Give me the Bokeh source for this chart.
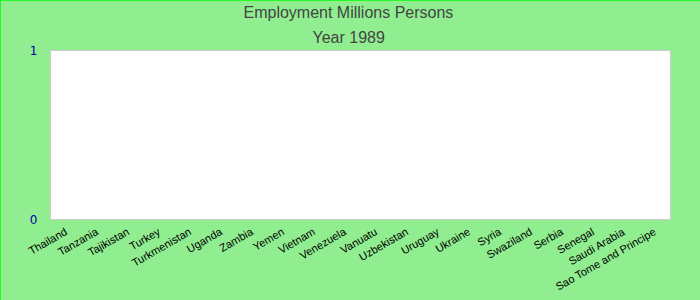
import math
from bokeh.plotting import figure
from bokeh.models import Range1d, FixedTicker, Title, ColumnDataSource
from bokeh.embed import file_html
from bokeh.resources import INLINE

title_main = "Employment Millions Persons"
title_sub = "Year 1989"
countries = ["Thailand", "Tanzania", "Tajikistan", "Turkey", "Turkmenistan", "Uganda",
             "Zambia", "Yemen", "Vietnam", "Venezuela", "Vanuatu", "Uzbekistan", "Uruguay",
             "Ukraine", "Syria", "Swaziland", "Serbia", "Senegal", "Saudi Arabia",
             "Sao Tome and Principe"]
# No data shown for 1989 (empty chart)
employment = [float("nan")] * len(countries)
y_ticks = [0, 1]

src = ColumnDataSource(dict(country=countries, value=employment))

p = figure(width=700, height=300, x_range=countries, y_range=Range1d(0, 1),
           output_backend="svg", toolbar_location=None,
           min_border_left=50, min_border_right=30, min_border_top=50, min_border_bottom=80)
p.vbar(x="country", top="value", width=0.6, source=src, color="#3366cc")

p.border_fill_color = "#90EE90"
p.background_fill_color = "white"
p.outline_line_color = "#cccccc"
p.outline_line_width = 1
p.grid.visible = False

TFONT = "Liberation Sans"
p.title.text = title_main
p.title.align = "left"
p.title.offset = 193
p.title.text_font = TFONT
p.title.text_font_size = "16px"
p.title.text_font_style = "normal"
p.title.text_color = "#444444"
p.title.standoff = 1
t2 = Title(text=title_sub, align="left", offset=262, text_font=TFONT,
           text_font_size="16px", text_font_style="normal", text_color="#444444", standoff=10)
p.add_layout(t2, "above")

p.yaxis.ticker = FixedTicker(ticks=y_ticks)
p.yaxis.axis_line_color = None
p.yaxis.major_tick_line_color = None
p.yaxis.minor_tick_line_color = None
p.yaxis.major_label_text_color = "#0000aa"
p.yaxis.major_label_text_font = "DejaVu Sans"
p.yaxis.major_label_text_font_size = "12px"
p.yaxis.major_label_standoff = 7

p.xaxis.axis_line_color = None
p.xaxis.major_tick_line_color = None
p.xaxis.minor_tick_line_color = None
p.xaxis.major_label_orientation = math.pi / 6
p.xaxis.major_label_text_font = "Liberation Sans"
p.xaxis.major_label_text_font_size = "11px"
p.xaxis.major_label_text_color = "black"
p.xaxis.major_label_standoff = 5

p.styles = {"outline": "2px solid #00ff00", "outline-offset": "-2px"}

open("out.html", "w").write(file_html(p, INLINE))
